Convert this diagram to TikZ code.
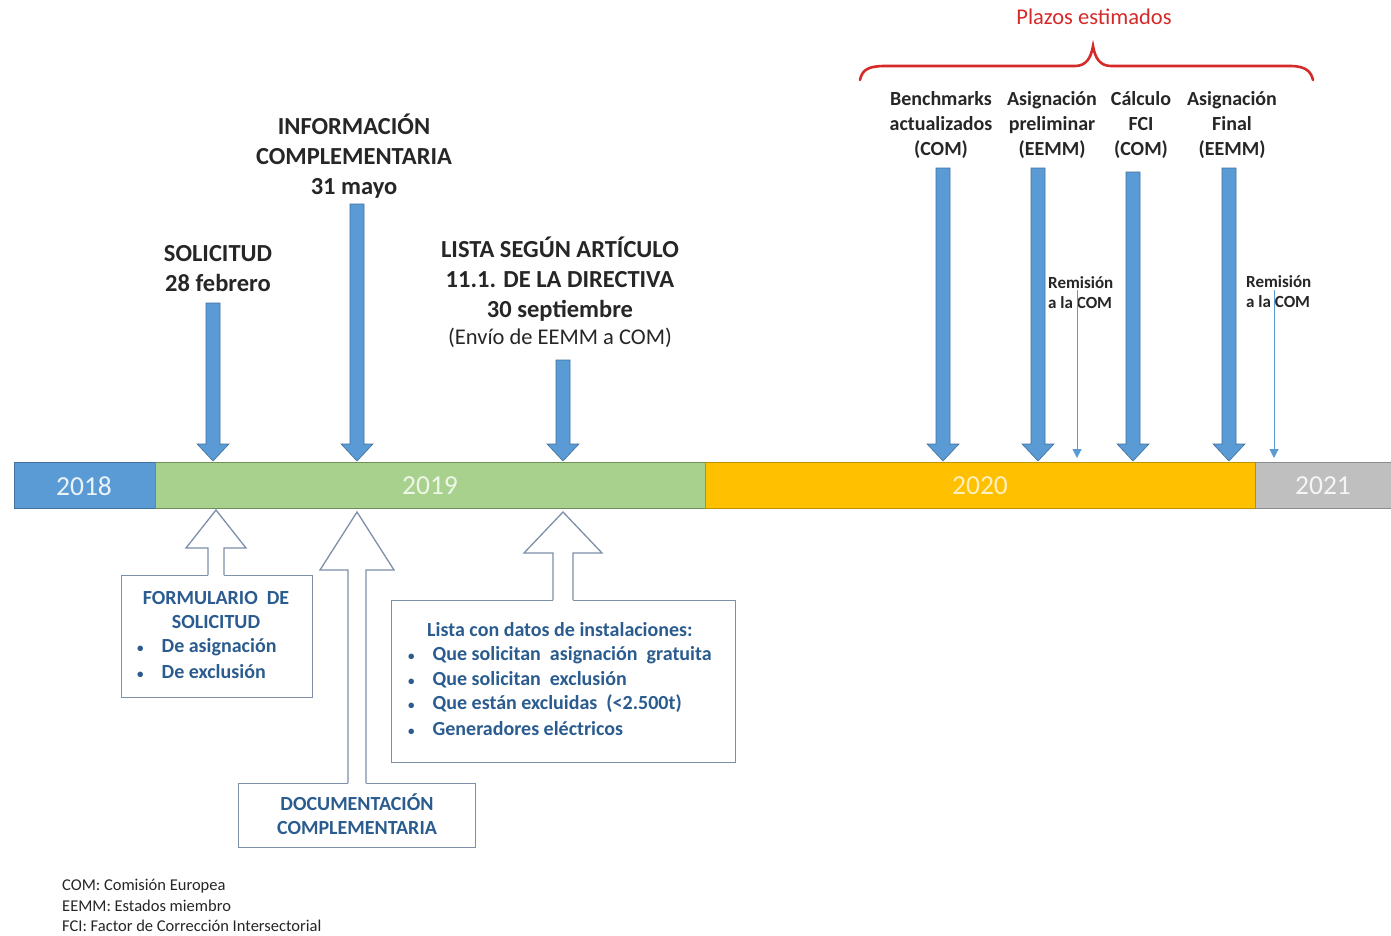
\documentclass[tikz,border=0pt]{standalone}
\usepackage{fontspec}
\setmainfont{Carlito}
\usetikzlibrary{arrows.meta}
\definecolor{yblue}{HTML}{5B9BD5}
\definecolor{yblueD}{HTML}{41719C}
\definecolor{ygreen}{HTML}{A9D18E}
\definecolor{ygreenD}{HTML}{6E8F5A}
\definecolor{ygold}{HTML}{FFC000}
\definecolor{ygoldD}{HTML}{BF9000}
\definecolor{ygray}{HTML}{BFBFBF}
\definecolor{ygrayD}{HTML}{8C8C8C}
\definecolor{outl}{HTML}{7D90A8}
\definecolor{boxtxt}{HTML}{2B5C8F}
\definecolor{dark}{HTML}{262626}
\definecolor{bracered}{HTML}{D62A2A}
\newcommand{\bdown}[3]{% x, ytop, ybottom(tip)
  \filldraw[fill=yblue,draw=yblueD,line width=0.6pt]
    (#1-7,#2) -- (#1+7,#2) -- (#1+7,#3-17) -- (#1+16,#3-17) -- (#1,#3)
    -- (#1-16,#3-17) -- (#1-7,#3-17) -- cycle;}
\newcommand{\hup}[7]{% x, tip y, head base y, half head, half shaft, bottom y
  \fill[white] (#1-#5,#6+1.5) -- (#1-#5,#3) -- (#1-#4,#3) -- (#1,#2) -- (#1+#4,#3) -- (#1+#5,#3) -- (#1+#5,#6+1.5) -- cycle;
  \draw[outl,line width=1.3pt,line join=miter] (#1-#5,#6) -- (#1-#5,#3) -- (#1-#4,#3) -- (#1,#2) -- (#1+#4,#3) -- (#1+#5,#3) -- (#1+#5,#6);}
\newcommand{\bul}{{\fontsize{13}{13}\selectfont\textbullet}}
\begin{document}
\begin{tikzpicture}[x=1pt,y=-1pt,
  yearbar/.style={draw,line width=0.8pt,minimum height=46pt,inner sep=0pt,anchor=north west},
  yeartxt/.style={font=\fontsize{27.5}{30}\selectfont},
  bigtxt/.style={text=dark,align=center,font=\bfseries\fontsize{24.5}{30}\selectfont},
  toptxt/.style={text=dark,align=center,font=\bfseries\fontsize{20}{25}\selectfont},
  remtxt/.style={text=dark,align=left,anchor=west,font=\bfseries\fontsize{17}{20}\selectfont,inner sep=0pt},
  infobox/.style={draw=outl,line width=1.3pt,fill=white,inner sep=0pt,anchor=north west},
  boxt/.style={text=boxtxt,font=\bfseries\fontsize{20}{24.5}\selectfont,inner sep=0pt},
  notetxt/.style={text=dark,anchor=west,inner sep=0pt,font=\fontsize{16.5}{20}\selectfont},
  thinarr/.style={yblue,line width=1pt,-{Triangle[length=9pt,width=9pt]}}
]
\useasboundingbox (0,0) rectangle (1391,935);
\fill[white] (0,0) rectangle (1391,935);

% year bar
\node[yearbar,fill=yblue,draw=yblueD,minimum width=141pt] (y18) at (14,462) {};
\node[yearbar,fill=ygreen,draw=ygreenD,minimum width=550pt] (y19) at (155,462) {};
\node[yearbar,fill=ygold,draw=ygoldD,minimum width=550pt] (y20) at (705,462) {};
\node[yearbar,fill=ygray,draw=ygrayD,minimum width=136pt] (y21) at (1255,462) {};
\node[yeartxt,text=white!88!yblue] (t18) at (84,486) {2018};
\node[yeartxt,text=white!80!ygreen] (t19) at (430,486) {2019};
\node[yeartxt,text=white!75!ygold] (t20) at (980,486) {2020};
\node[yeartxt,text=white!85!ygray] (t21) at (1323,486) {2021};

% top labels (left)
\node[bigtxt] (sol) at (218,269) {SOLICITUD\\28 febrero};
\node[bigtxt] (info) at (354,156) {INFORMACIÓN\\COMPLEMENTARIA\\31 mayo};
\node[bigtxt] (lista) at (560,292) {LISTA SEGÚN ARTÍCULO\\11.1. DE LA DIRECTIVA\\30 septiembre\\[-3pt]{\mdseries\fontsize{22.5}{28}\selectfont (Envío de EEMM a COM)}};

% top labels (right)
\node[text=bracered,font=\fontsize{22.5}{24}\selectfont] (plazos) at (1094,17) {Plazos estimados};
\node[toptxt] (bench) at (941,125) {Benchmarks\\actualizados\\(COM)};
\node[toptxt] (aprel) at (1052,125) {Asignación\\preliminar\\(EEMM)};
\node[toptxt] (fci) at (1141,125) {Cálculo\\FCI\\(COM)};
\node[toptxt] (afin) at (1232,125) {Asignación\\Final\\(EEMM)};
\node[remtxt] (rem1) at (1048,293) {Remisión\\a la COM};
\node[remtxt] (rem2) at (1246,292) {Remisión\\a la COM};

% brace
\draw[bracered,line width=2.6pt,line cap=round]
  (860,80) .. controls (862,70) and (868,66) .. (885,66) -- (1075,66)
  .. controls (1086,66) and (1091,58) .. (1093,46)
  .. controls (1095,58) and (1100,66) .. (1111,66) -- (1290,66)
  .. controls (1305,66) and (1311,71) .. (1313,80);

% blue down arrows
\bdown{213}{303}{461}
\bdown{357}{204}{461}
\bdown{563}{360}{461}
\bdown{943}{168}{461}
\bdown{1038}{168}{461}
\bdown{1133}{172}{461}
\bdown{1229}{168}{461}
\coordinate (r1a) at (1077,290);
\coordinate (r1b) at (1077,458);
\coordinate (r2a) at (1274,290);
\coordinate (r2b) at (1274,458);
\draw[thinarr] (r1a) -- (r1b);
\draw[thinarr] (r2a) -- (r2b);

% boxes
\node[infobox,minimum width=191pt,minimum height=122pt] (form) at (121,575) {};
\node[infobox,minimum width=237pt,minimum height=64pt] (doc) at (238,783) {};
\node[infobox,minimum width=344pt,minimum height=162pt] (lbox) at (391,600) {};

% hollow up arrows
\hup{216}{510}{548}{30}{8}{575}{}
\hup{357}{512}{570}{37}{9}{783}{}
\hup{563}{512}{553}{39}{10}{600}{}

% box texts
\node[boxt,align=center] (formt) at (216,610) {FORMULARIO\ \ DE\\SOLICITUD};
\node[boxt,anchor=west] (fb1) at (137,647) {\bul\hspace{18pt}De asignación};
\node[boxt,anchor=west] (fb2) at (137,672) {\bul\hspace{18pt}De exclusión};
\node[boxt,align=center] (doct) at (357,814) {DOCUMENTACIÓN\\COMPLEMENTARIA};
\node[boxt,anchor=west] (l0) at (427,630) {Lista con datos de instalaciones:};
\node[boxt,anchor=west] (l1) at (408,655) {\bul\hspace{18pt}Que solicitan\ \ asignación\ \ gratuita};
\node[boxt,anchor=west] (l2) at (408,680) {\bul\hspace{18pt}Que solicitan\ \ exclusión};
\node[boxt,anchor=west] (l3) at (408,704) {\bul\hspace{18pt}Que están excluidas\ \ (<2.500t)};
\node[boxt,anchor=west] (l4) at (408,729) {\bul\hspace{18pt}Generadores eléctricos};

% notes
\node[notetxt] (n1) at (62,886) {COM: Comisión Europea};
\node[notetxt] (n2) at (62,906) {EEMM: Estados miembro};
\node[notetxt] (n3) at (62,926) {FCI: Factor de Corrección Intersectorial};
\end{tikzpicture}
\end{document}
